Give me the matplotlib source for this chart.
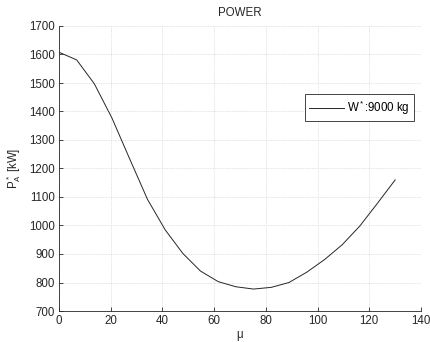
import matplotlib
matplotlib.use("Agg")
import matplotlib.pyplot as plt

plt.rcParams['font.family'] = ['Liberation Sans', 'DejaVu Sans']
plt.rcParams['mathtext.fontset'] = 'custom'
plt.rcParams['mathtext.rm'] = 'Liberation Sans'
plt.rcParams['mathtext.it'] = 'Liberation Sans'

# Rotor parameter mu and corresponding required power
mu = [0, 6.84, 13.68, 20.53, 27.37, 34.21, 41.05, 47.89, 54.74, 61.58,
      68.42, 75.26, 82.11, 88.95, 95.79, 102.63, 109.47, 116.32, 123.16, 130]
power_kw = [1608, 1581, 1497, 1376, 1233, 1092, 985, 902, 840, 803,
            785, 777, 783, 800, 836, 880, 932, 998, 1078, 1160]

series_label = r'W$^*$:9000 kg'
x_ticks = [0, 20, 40, 60, 80, 100, 120, 140]
y_ticks = [700, 800, 900, 1000, 1100, 1200, 1300, 1400, 1500, 1600, 1700]

fs = 8.3

fig = plt.figure(figsize=(4.31, 3.42), dpi=100)
ax = fig.add_axes([59 / 431, 31 / 342, 362 / 431, 285 / 342])

ax.plot(mu, power_kw, color='#262626', linewidth=0.7, label=series_label)

ax.set_xlim(0, 140)
ax.set_ylim(700, 1700)
ax.set_xticks(x_ticks)
ax.set_yticks(y_ticks)

ax.grid(True, color='#d9d9d9', linestyle=(0, (2, 1.5)), linewidth=0.5)
ax.set_axisbelow(True)

for side in ('top', 'right'):
    ax.spines[side].set_visible(False)
for side in ('left', 'bottom'):
    ax.spines[side].set_color('#262626')
    ax.spines[side].set_linewidth(0.6)

ax.tick_params(direction='in', length=3, width=0.6, colors='#262626',
               labelsize=fs, pad=3)

ax.set_title('POWER', fontsize=fs, color='#262626', pad=7)
ax.set_xlabel('\u03bc', fontsize=fs, color='#262626', labelpad=1)
ax.set_ylabel(r'P$_A^*$ [kW]', fontsize=fs, color='#262626', labelpad=4)

leg = ax.legend(loc='upper right', bbox_to_anchor=(0.982, 0.762),
                fontsize=fs, frameon=True, fancybox=False, framealpha=1,
                edgecolor='#262626', handlelength=3.0, handletextpad=0.3,
                borderpad=0.4, borderaxespad=0)
leg.get_frame().set_linewidth(0.6)

fig.savefig('out.png', dpi=100)
